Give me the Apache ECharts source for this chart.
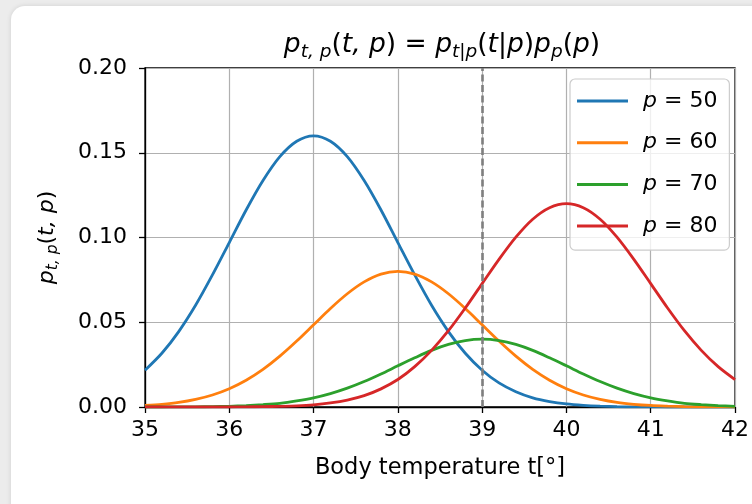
<!DOCTYPE html>
<html>
<head>
<meta charset="utf-8">
<script src="https://cdn.jsdelivr.net/npm/echarts@6/dist/echarts.min.js"></script>
<style>
html,body{margin:0;padding:0;width:752px;height:504px;overflow:hidden;background:#ececec;}
#card{position:absolute;left:11px;top:6px;width:800px;height:560px;background:#fff;border-radius:14px;box-shadow:0 0 5px rgba(0,0,0,0.12);}
#chart{position:absolute;left:0;top:0;width:752px;height:504px;}
</style>
</head>
<body>
<div id="card"></div>
<div id="chart"></div>
<script>
const temps = [35.0,35.2,35.4,35.6,35.8,36.0,36.2,36.4,36.6,36.8,37.0,37.2,37.4,37.6,37.8,38.0,38.2,38.4,38.6,38.8,39.0,39.2,39.4,39.6,39.8,40.0,40.2,40.4,40.6,40.8,41.0,41.2,41.4,41.6,41.8,42.0];
const p50 = [0.0217,0.0317,0.0445,0.0600,0.0779,0.0970,0.1162,0.1336,0.1477,0.1568,0.1600,0.1568,0.1477,0.1336,0.1162,0.0970,0.0779,0.0600,0.0445,0.0317,0.0217,0.0142,0.0090,0.0054,0.0032,0.0018,0.0010,0.0005,0.0002,0.0001,0.0001,0.0000,0.0000,0.0000,0.0000,0.0000];
const p60 = [0.0009,0.0016,0.0027,0.0045,0.0071,0.0108,0.0158,0.0222,0.0300,0.0389,0.0485,0.0581,0.0668,0.0738,0.0784,0.0800,0.0784,0.0738,0.0668,0.0581,0.0485,0.0389,0.0300,0.0222,0.0158,0.0108,0.0071,0.0045,0.0027,0.0016,0.0009,0.0005,0.0002,0.0001,0.0001,0.0000];
const p70 = [0.0000,0.0000,0.0001,0.0001,0.0002,0.0004,0.0008,0.0014,0.0022,0.0036,0.0054,0.0079,0.0111,0.0150,0.0195,0.0243,0.0290,0.0334,0.0369,0.0392,0.0400,0.0392,0.0369,0.0334,0.0290,0.0243,0.0195,0.0150,0.0111,0.0079,0.0054,0.0036,0.0022,0.0014,0.0008,0.0004];
const p80 = [0.0000,0.0000,0.0000,0.0000,0.0000,0.0000,0.0001,0.0002,0.0004,0.0007,0.0013,0.0024,0.0041,0.0067,0.0107,0.0162,0.0238,0.0334,0.0450,0.0584,0.0728,0.0871,0.1002,0.1108,0.1176,0.1200,0.1176,0.1108,0.1002,0.0871,0.0728,0.0584,0.0450,0.0334,0.0238,0.0162];
const seriesNames = ['p = 50','p = 60','p = 70','p = 80'];
const seriesValues = [p50, p60, p70, p80];
const colors = ['#1f77b4','#ff7f0e','#2ca02c','#d62728'];
const refTemp = 39;
const xTicks = [35,36,37,38,39,40,41,42];
const yTicks = [0.00,0.05,0.10,0.15,0.20];
const xLabel = 'Body temperature t[°]';

const FONT = 'DejaVu Sans';
const chart = echarts.init(document.getElementById('chart'), null, {renderer:'canvas'});

const series = seriesNames.map((n,i)=>({
  name:n, type:'line', smooth:0.3, symbol:'none',
  data: temps.map((t,j)=>[t, seriesValues[i][j]]),
  lineStyle:{color:colors[i], width:2.8}, itemStyle:{color:colors[i]},
  z: 3+i
}));
series[3].markLine = {
  silent:true, symbol:'none', label:{show:false},
  lineStyle:{color:'#7f7f7f', type:[7,3.5], width:2.6},
  data:[{xAxis:refTemp}], z:10
};

const subRich = {
  i:{fontFamily:FONT, fontStyle:'italic', fontSize:26.5, color:'#000', lineHeight:34},
  n:{fontFamily:FONT, fontSize:26.5, color:'#000', lineHeight:34},
  s:{fontFamily:FONT, fontStyle:'italic', fontSize:18.5, color:'#000', verticalAlign:'bottom', lineHeight:18},
  sn:{fontFamily:FONT, fontSize:18.5, color:'#000', verticalAlign:'bottom', lineHeight:18}
};
const yRich = {
  i:{fontFamily:FONT, fontStyle:'italic', fontSize:22, color:'#000', lineHeight:28},
  n:{fontFamily:FONT, fontSize:22, color:'#000', lineHeight:28},
  s:{fontFamily:FONT, fontStyle:'italic', fontSize:15.5, color:'#000', verticalAlign:'bottom', lineHeight:15}
};

chart.setOption({
  animation:false,
  backgroundColor:'transparent',
  color:colors,
  grid:{left:145, right:10, top:68, bottom:97, show:true, borderColor:'#000', borderWidth:1.3, backgroundColor:'transparent', containLabel:false},
  graphic:[{
    type:'text', x:442, y:28, z:100,
    style:{
      text:'{i|p}{s|t, p}{n|(}{i|t, p}{n|) = }{i|p}{s|t}{sn||}{s|p}{n|(}{i|t}{n||}{i|p}{n|)}{i|p}{s|p}{n|(}{i|p}{n|)}',
      rich:subRich, align:'center', verticalAlign:'top'
    }
  }],
  legend:{
    orient:'vertical', left:570, top:79,
    backgroundColor:'rgba(255,255,255,0.8)', borderColor:'#cccccc', borderWidth:1.2, borderRadius:5,
    padding:[11,12,13,7], itemGap:19.7, itemWidth:51, itemHeight:3,
    icon:'rect',
    data:seriesNames,
    formatter:(name)=>'{i|p}{n|' + name.slice(1) + '}',
    textStyle:{padding:[0,0,0,10], rich:{
      i:{fontFamily:FONT, fontStyle:'italic', fontSize:22, color:'#000', lineHeight:22},
      n:{fontFamily:FONT, fontSize:22, color:'#000', lineHeight:22}
    }}
  },
  xAxis:{
    type:'value', min:xTicks[0], max:xTicks[xTicks.length-1], interval:1,
    name:xLabel, nameLocation:'middle', nameGap:50,
    nameTextStyle:{fontFamily:FONT, fontSize:22.5, color:'#000'},
    axisLine:{show:true, onZero:false, lineStyle:{color:'#000', width:1.3}},
    axisTick:{show:true, inside:false, length:6, lineStyle:{color:'#000', width:1.3}},
    axisLabel:{fontFamily:FONT, fontSize:22, color:'#000', margin:12,
      formatter:(v)=>xTicks.includes(v)? String(v):''},
    splitLine:{show:true, lineStyle:{color:'#b0b0b0', width:1.2}}
  },
  yAxis:{
    type:'value', min:yTicks[0], max:yTicks[yTicks.length-1], interval:0.05,
    name:'{i|p}{s|t, p}{n|(}{i|t, p}{n|)}', nameLocation:'middle', nameGap:84, nameRotate:90,
    nameTextStyle:{rich:yRich},
    axisLine:{show:true, lineStyle:{color:'#000', width:1.3}},
    axisTick:{show:true, inside:false, length:6, lineStyle:{color:'#000', width:1.3}},
    axisLabel:{fontFamily:FONT, fontSize:22, color:'#000', margin:18,
      formatter:(v)=>v.toFixed(2)},
    splitLine:{show:true, lineStyle:{color:'#b0b0b0', width:1.2}}
  },
  series:series
});
</script>
</body>
</html>
